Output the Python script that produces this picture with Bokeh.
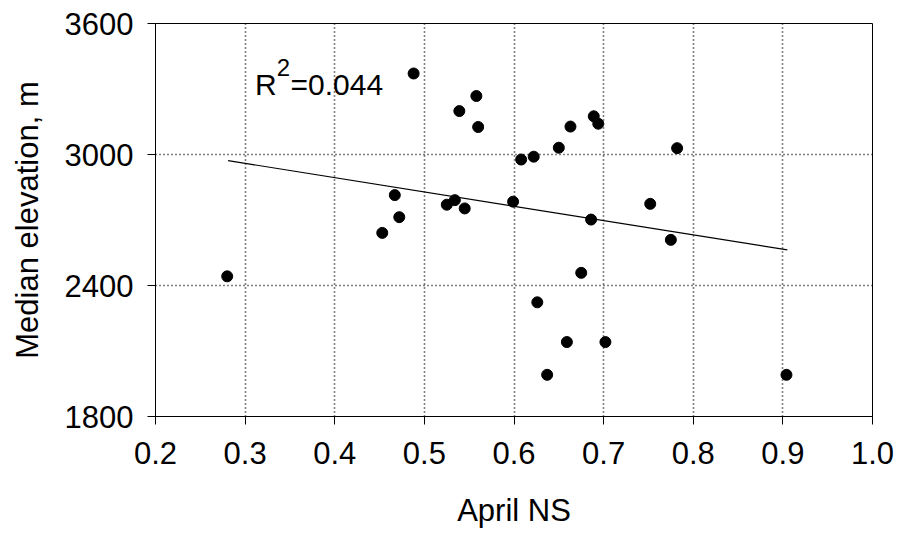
from bokeh.plotting import figure
from bokeh.models import Range1d, FixedTicker, Label, ColumnDataSource
from bokeh.embed import file_html
from bokeh.resources import INLINE

# Data
april_ns = [0.280, 0.453, 0.467, 0.472, 0.488, 0.525, 0.534, 0.539, 0.545,
            0.558, 0.560, 0.599, 0.608, 0.622, 0.626, 0.637, 0.650, 0.659,
            0.663, 0.675, 0.686, 0.689, 0.694, 0.702, 0.752, 0.775, 0.782, 0.904]
median_elev = [2442, 2641, 2814, 2713, 3371, 2770, 2791, 3199, 2753,
               3268, 3126, 2784, 2977, 2990, 2323, 1991, 3031, 2141,
               3128, 2458, 2702, 3175, 3141, 2141, 2774, 2609, 3029, 1991]

trend_x = [0.281, 0.905]
trend_y = [2972, 2563]

x_ticks = [0.2, 0.3, 0.4, 0.5, 0.6, 0.7, 0.8, 0.9, 1.0]
x_tick_labels = ["0.2", "0.3", "0.4", "0.5", "0.6", "0.7", "0.8", "0.9", "1.0"]
y_ticks = [1800, 2400, 3000, 3600]
y_tick_labels = ["1800", "2400", "3000", "3600"]

r2_text = "0.044"

FONT = "Liberation Sans"

p = figure(width=897, height=533, output_backend="svg", toolbar_location=None,
           x_range=Range1d(0.2, 1.0), y_range=Range1d(1800, 3600),
           min_border_left=155, min_border_right=25, min_border_top=23,
           min_border_bottom=117)
p.background_fill_color = "white"
p.border_fill_color = "white"
p.outline_line_color = "black"
p.outline_line_width = 1

for ax in (p.xaxis[0], p.yaxis[0]):
    ax.axis_line_color = "black"
    ax.axis_line_width = 1
    ax.major_tick_line_color = "black"
    ax.major_tick_in = 0
    ax.major_tick_out = 8
    ax.minor_tick_line_color = None
    ax.major_label_text_font = FONT
    ax.major_label_text_font_size = "31px"
    ax.major_label_text_color = "black"
    ax.axis_label_text_font = FONT
    ax.axis_label_text_font_size = "31px"
    ax.axis_label_text_font_style = "normal"
    ax.axis_label_text_color = "black"

p.xaxis.ticker = FixedTicker(ticks=x_ticks)
p.xaxis.major_label_overrides = dict(zip(x_ticks, x_tick_labels))
p.yaxis.ticker = FixedTicker(ticks=y_ticks)
p.yaxis.major_label_overrides = dict(zip(y_ticks, y_tick_labels))
p.xaxis.major_label_standoff = 17
p.yaxis.major_label_standoff = 14
p.xaxis.axis_label = "April NS"
p.yaxis.axis_label = "Median elevation, m"
p.xaxis.axis_label_standoff = 26
p.yaxis.axis_label_standoff = 17

p.xgrid.ticker = FixedTicker(ticks=x_ticks[1:-1])
p.ygrid.ticker = FixedTicker(ticks=y_ticks[1:-1])
for g in (p.xgrid[0], p.ygrid[0]):
    g.grid_line_color = "black"
    g.grid_line_dash = "1 3"
    g.grid_line_width = 1.6

p.line(trend_x, trend_y, line_color="black", line_width=1.2)

src = ColumnDataSource(dict(x=april_ns, y=median_elev))
p.scatter("x", "y", source=src, marker="circle", size=11,
          fill_color="black", line_color="black")

# R^2 annotation
lx, ly = 0.311, 3320
p.add_layout(Label(x=lx, y=ly, text="R", text_font=FONT, text_font_size="30px",
                   text_baseline="alphabetic", text_align="left", text_color="black"))
p.add_layout(Label(x=lx, y=ly, x_offset=21.7, y_offset=17, text="2", text_font=FONT,
                   text_font_size="24px", text_baseline="alphabetic",
                   text_align="left", text_color="black"))
p.add_layout(Label(x=lx, y=ly, x_offset=35.5, text="=" + r2_text, text_font=FONT,
                   text_font_size="30px", text_baseline="alphabetic",
                   text_align="left", text_color="black"))

open("out.html", "w").write(file_html(p, INLINE))
